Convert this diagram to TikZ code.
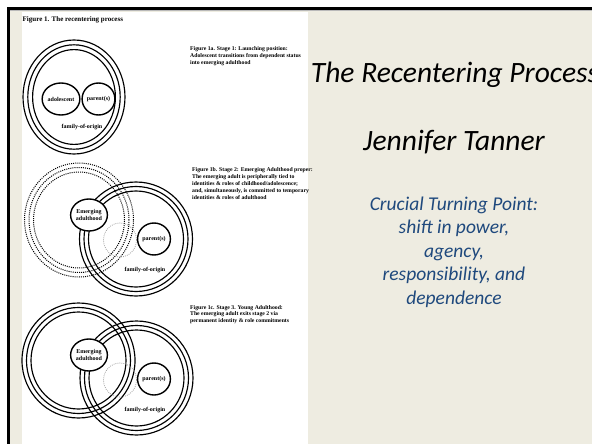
\documentclass[tikz,border=0pt]{standalone}
\usepackage{fontspec}
\setmainfont{Liberation Serif}
\newfontfamily\calibri{Carlito}
\usetikzlibrary{shapes.geometric}
\definecolor{slidebg}{HTML}{EEECE1}
\definecolor{slideblue}{HTML}{1F497D}
\begin{document}
\begin{tikzpicture}[x=1pt,y=-1pt,
  solidring/.style={draw=black, line width=1.15pt},
  dotring/.style={draw=black, line width=1pt, dash pattern=on 1pt off 1.1pt},
  ghost/.style={draw=gray!75, line width=0.8pt, dash pattern=on 0.8pt off 1.2pt},
  role/.style={ellipse, draw, line width=1.4pt, fill=white, inner sep=0pt,
    minimum width=30pt, minimum height=32pt,
    font=\fontsize{6}{6.8}\selectfont\bfseries, align=center},
  stagecap/.style={anchor=base west, align=left, inner sep=0pt,
    font=\fontsize{5.75}{6.9}\selectfont\bfseries},
  famtext/.style={font=\fontsize{6}{7}\selectfont\bfseries, inner sep=0pt},
  slidetitle/.style={font=\calibri\itshape\fontsize{29.5}{34}\selectfont, anchor=base, inner sep=0pt},
  slidebody/.style={font=\calibri\itshape\fontsize{19.5}{23.5}\selectfont, text=slideblue,
    align=center, anchor=base, inner sep=0pt}]
\useasboundingbox (0,0) rectangle (592,444);
% slide frame
\fill[white] (0,0) rectangle (592,444);
\fill[slidebg] (10,10.5) rectangle (592,444);
\fill[black] (7,7.5) rectangle (592,10.5);
\fill[black] (7,7.5) rectangle (10,444);
\fill[gray!55] (10,10.5) rectangle (592,11.2);
\fill[white] (22,12) rectangle (308,444);

\node[anchor=base west, inner sep=0pt, font=\fontsize{7}{8}\selectfont\bfseries] (figtitle) at (22.5,22) {Figure 1. The recentering process};

% Stage 1
\foreach \d in {0,4.8,9.6}
  \draw[solidring] (74,97) ellipse [x radius={(51-\d)*1pt}, y radius={(57-\d)*1pt}];
\node[role, minimum width=32pt] (adol) at (61,99) {adolescent};
\node[role, minimum width=32pt] (par1) at (98.5,99) {parent(s)};
\node[famtext] (fam1) at (82,127) {family-of-origin};
% anchor = baseline of the last line
\node[stagecap] (cap1) at (190,64.3) {Figure 1a. Stage 1: Launching position:\\Adolescent transitions from dependent status\\into emerging adulthood};

% Stage 2
\foreach \d in {0,4.5,9}
  \draw[solidring] (136,239) ellipse [x radius={(56.5-\d)*1pt}, y radius={(57-\d)*1pt}];
\foreach \d in {0,4.5,9}
  \draw[dotring] (79,220) ellipse [x radius={(54.5-\d)*1pt}, y radius={(57-\d)*1pt}];
\draw[ghost] (120,240) ellipse [x radius=16.5pt, y radius=17pt];
\node[role] (par2) at (154,239) {parent(s)};
\node[role] (em2) at (89,215) {Emerging\\adulthood};
\node[famtext] (fam2) at (145,270) {family-of-origin};
\node[stagecap] (cap2) at (192,199.1) {Figure 1b. Stage 2: Emerging Adulthood proper:\\The emerging adult is peripherally tied to\\identities \& roles of childhood/adolescence;\\and, simultaneously, is committed to temporary\\identities \& roles of adulthood};

% Stage 3
\foreach \d in {0,4.5,9}
  \draw[solidring] (136.5,378) ellipse [x radius={(56.5-\d)*1pt}, y radius={(57-\d)*1pt}];
\foreach \d in {0,4.5,9}
  \draw[solidring] (78.5,360.5) ellipse [x radius={(56.5-\d)*1pt}, y radius={(57.5-\d)*1pt}];
\draw[ghost] (120,380) ellipse [x radius=16.5pt, y radius=17pt];
\node[role] (par3) at (154,379) {parent(s)};
\node[role] (em3) at (89,355) {Emerging\\adulthood};
\node[famtext] (fam3) at (145,410) {family-of-origin};
\node[stagecap] (cap3) at (190,322.8) {Figure 1c. Stage 3. Young Adulthood:\\The emerging adult exits stage 2 via\\permanent identity \& role commitments};

% Slide text
\node[slidetitle] (title) at (455,83) {The Recentering Process};
\node[slidetitle] (author) at (454,150) {Jennifer Tanner};
\node[slidebody] (point) at (454,304) {Crucial Turning Point:\\shift in power,\\agency,\\responsibility, and\\dependence};
\end{tikzpicture}
\end{document}
